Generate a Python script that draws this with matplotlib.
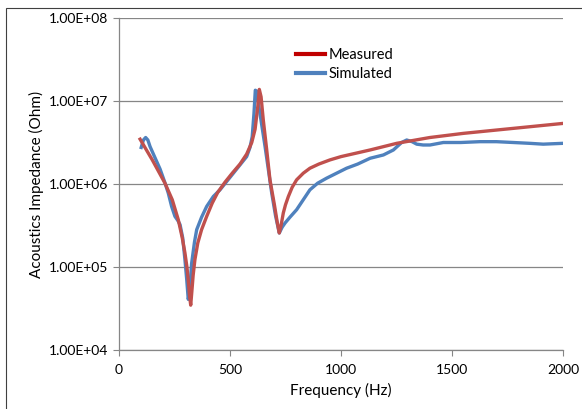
import numpy as np
import matplotlib
matplotlib.use("Agg")
import matplotlib.pyplot as plt
from matplotlib.patches import Rectangle
from matplotlib.lines import Line2D

# --- data (Hz, log10 of Ohm) ---
meas_f = [95, 150, 207, 240, 267, 285, 297, 306, 312, 318, 323, 328, 334,
          342, 355, 372, 395, 420, 445, 477, 510, 545, 575, 598, 613, 625,
          632, 640, 650, 665, 680, 700, 712, 722, 730, 740, 750, 763, 780,
          800, 830, 860, 900, 950, 1000, 1131, 1251, 1400, 1551, 1700, 1850,
          2000]
meas_log = [6.54, 6.29, 6.01, 5.81, 5.57, 5.35, 5.17, 5.00, 4.84, 4.65, 4.54,
            4.70, 4.90, 5.09, 5.29, 5.45, 5.61, 5.77, 5.90, 6.02, 6.13, 6.24,
            6.36, 6.50, 6.66, 6.93, 7.14, 7.05, 6.77, 6.42, 6.05, 5.75, 5.55,
            5.41, 5.50, 5.65, 5.75, 5.85, 5.96, 6.05, 6.13, 6.19, 6.24, 6.29,
            6.33, 6.41, 6.49, 6.56, 6.61, 6.65, 6.69, 6.73]

sim_f = [100, 110, 120, 130, 140, 160, 185, 205, 222, 237, 252, 265, 275,
         287, 297, 305, 312, 318, 327, 340, 350, 372, 395, 425, 455, 485,
         515, 545, 575, 590, 600, 608, 614, 620, 635, 658, 688, 705, 722,
         735, 748, 770, 800, 830, 860, 895, 935, 980, 1025, 1075, 1131, 1191,
         1236, 1273, 1296, 1320, 1341, 1370, 1401, 1461, 1540, 1626, 1700,
         1776, 1850, 1911, 2000]
sim_log = [6.44, 6.53, 6.56, 6.53, 6.45, 6.33, 6.18, 6.03, 5.89, 5.73, 5.61,
           5.56, 5.51, 5.35, 5.09, 4.85, 4.61, 4.70, 5.04, 5.30, 5.45, 5.60,
           5.73, 5.85, 5.93, 6.03, 6.13, 6.23, 6.33, 6.44, 6.57, 6.85, 7.13,
           7.12, 6.85, 6.45, 5.89, 5.62, 5.41, 5.48, 5.53, 5.60, 5.69, 5.81,
           5.93, 6.01, 6.07, 6.13, 6.19, 6.24, 6.31, 6.35, 6.41, 6.50, 6.53,
           6.51, 6.48, 6.47, 6.47, 6.50, 6.50, 6.51, 6.51, 6.50, 6.49, 6.48,
           6.49]

y_ticks = [1e4, 1e5, 1e6, 1e7, 1e8]
y_labels = ["1.00E+04", "1.00E+05", "1.00E+06", "1.00E+07", "1.00E+08"]
x_ticks = [0, 500, 1000, 1500, 2000]

RED = "#C0504D"
BLUE = "#4F81BD"
GRID = "#868686"

plt.rcParams["font.family"] = ["Lato", "DejaVu Sans"]

fig = plt.figure(figsize=(5.82, 4.09), dpi=100)
ax = fig.add_axes([119 / 582, 1 - 350 / 409, 444 / 582, 332 / 409])

# outer chart border (only left/top visible in the crop)
fig.patches.append(Rectangle((6 / 582, -0.2), 1.2, 1 - 8 / 409 + 0.2,
                             transform=fig.transFigure, fill=False,
                             edgecolor="#404040", linewidth=0.8))

ax.semilogy(sim_f, 10 ** np.array(sim_log), color=BLUE, lw=2.4,
            zorder=3, solid_joinstyle="round")
ax.semilogy(meas_f, 10 ** np.array(meas_log), color=RED, lw=2.4,
            zorder=4, solid_joinstyle="round")

ax.set_xlim(0, 2000)
ax.set_ylim(1e4, 1e8)
ax.set_xticks(x_ticks)
ax.set_yticks(y_ticks)
ax.set_yticklabels(y_labels)
ax.minorticks_off()
ax.yaxis.grid(True, color=GRID, lw=0.9)
ax.set_axisbelow(True)

for s in ["top", "right"]:
    ax.spines[s].set_visible(False)
for s in ["left", "bottom"]:
    ax.spines[s].set_color(GRID)
    ax.spines[s].set_linewidth(0.9)
ax.tick_params(axis="both", direction="out", length=4, color=GRID,
               labelsize=10, labelcolor="black")
ax.tick_params(axis="x", pad=6)

ax.set_xlabel("Frequency (Hz)", fontsize=11, labelpad=5)
ax.set_ylabel("Acoustics Impedance (Ohm)", fontsize=11, labelpad=4)

handles = [Line2D([], [], color="#C00000", lw=3),
           Line2D([], [], color=BLUE, lw=3)]
ax.legend(handles, ["Measured", "Simulated"], loc="upper left",
          bbox_to_anchor=(0.385, 0.926), frameon=False, fontsize=10.5,
          handlelength=2.0, handletextpad=0.25, labelspacing=0.3,
          borderaxespad=0)

fig.savefig("out.png", dpi=100)
